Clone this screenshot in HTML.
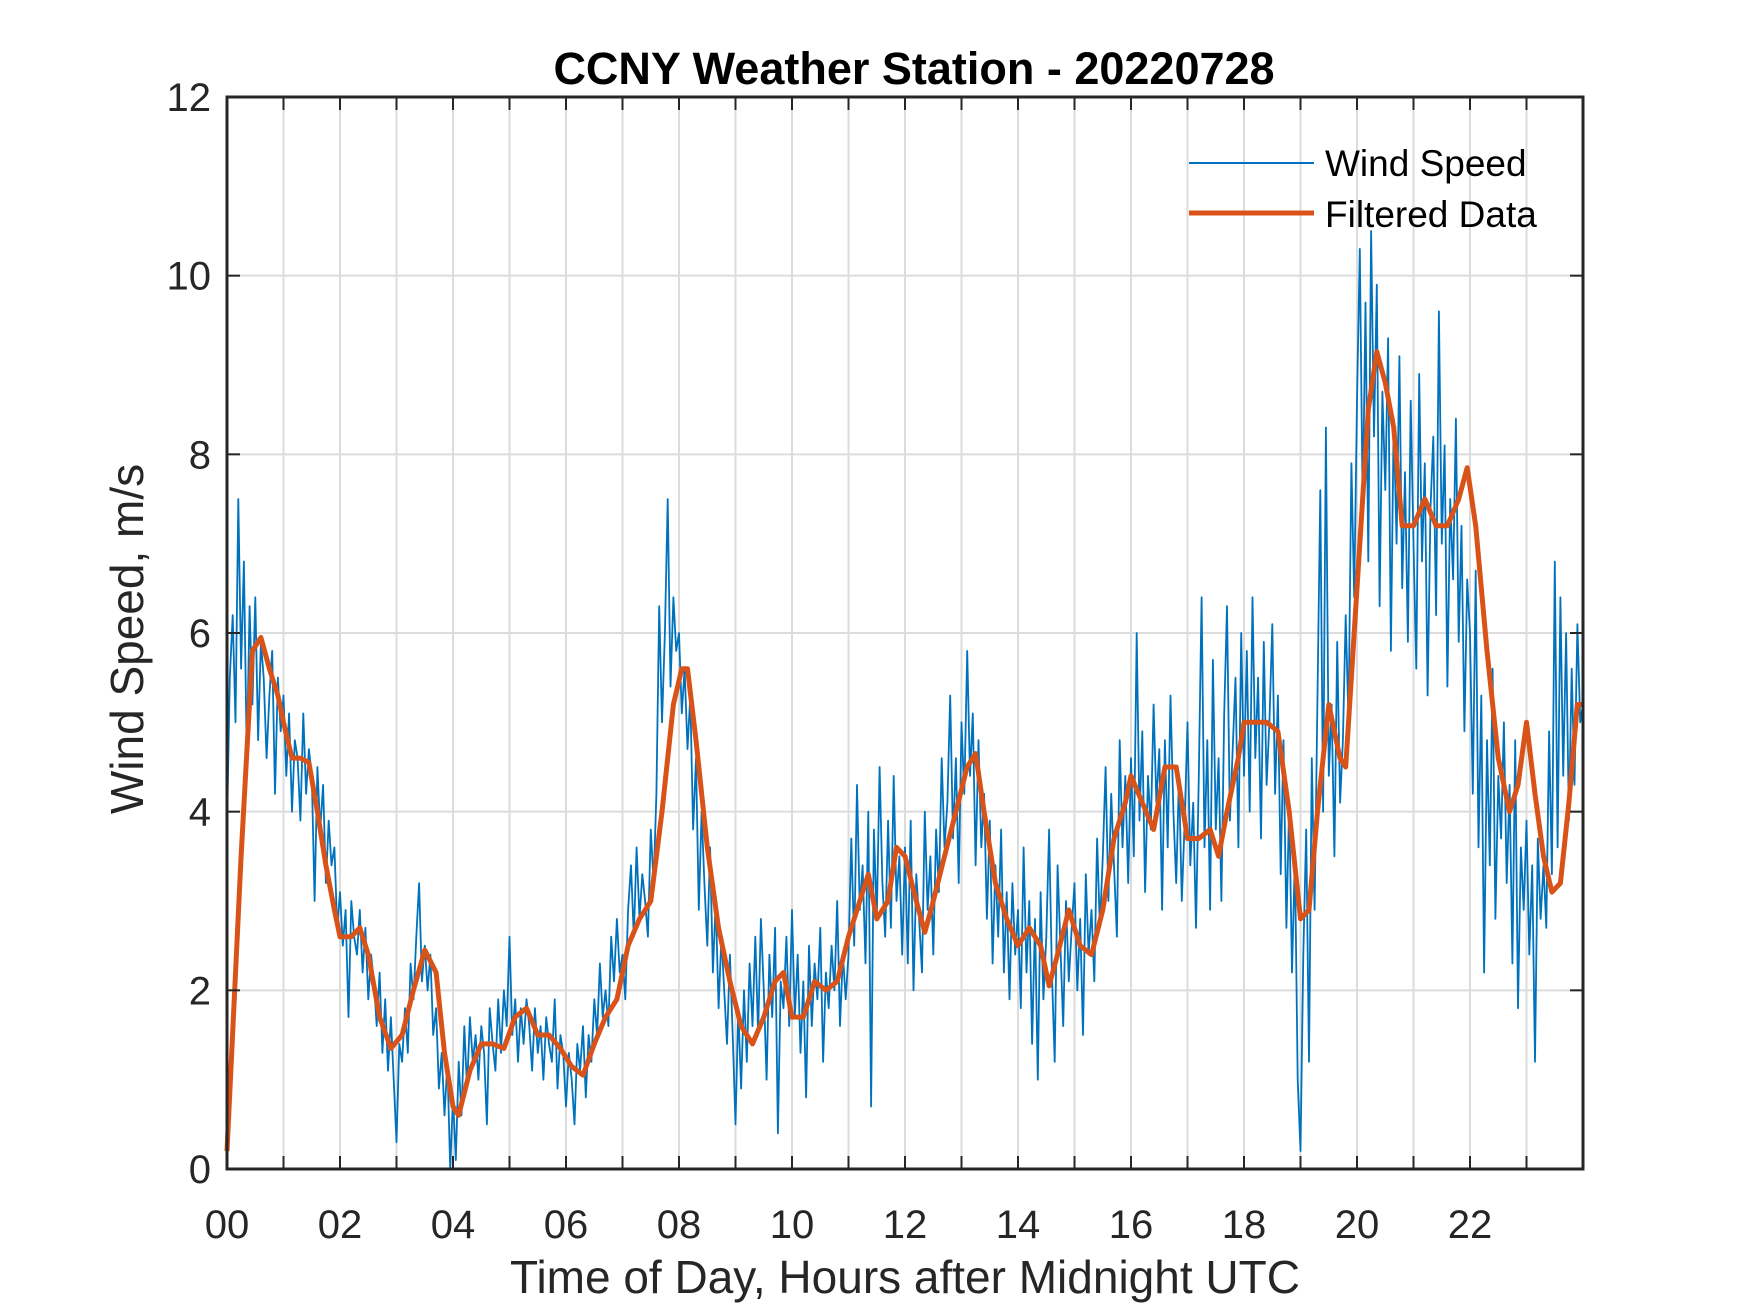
<!DOCTYPE html>
<html><head><meta charset="utf-8"><style>
html,body{margin:0;padding:0;background:#fff;}
svg{display:block;font-family:"Liberation Sans",Arial,sans-serif;}
</style></head><body>
<svg id="chart" width="1750" height="1313" viewBox="0 0 1750 1313" xmlns="http://www.w3.org/2000/svg">
<rect width="1750" height="1313" fill="#fff"/>
<g id="grid"></g>
<g id="series"></g>
<g id="axes"></g>
<text x="914" y="84" text-anchor="middle" font-size="45" font-weight="bold" fill="#000">CCNY Weather Station - 20220728</text>
<text x="905" y="1293" text-anchor="middle" font-size="46" fill="#262626">Time of Day, Hours after Midnight UTC</text>
<text transform="translate(143,639) rotate(-90)" text-anchor="middle" font-size="46" fill="#262626">Wind Speed, m/s</text>
<g>
<line x1="1189" y1="163" x2="1314" y2="163" stroke="#0072BD" stroke-width="2"/>
<text x="1325" y="176" font-size="37" fill="#000">Wind Speed</text>
<line x1="1189" y1="213" x2="1314" y2="213" stroke="#D95319" stroke-width="5"/>
<text x="1325" y="227" font-size="37" fill="#000">Filtered Data</text>
</g>
</svg>
<script>
const xTicks=[0,2,4,6,8,10,12,14,16,18,20,22];
const xTickLabels=["00","02","04","06","08","10","12","14","16","18","20","22"];
const yTicks=[0,2,4,6,8,10,12];
const yTickLabels=["0","2","4","6","8","10","12"];
const rawStep=0.05;
const windSpeed=[
3.8,5.5,6.2,5.0,7.5,5.6,6.8,4.6,6.3,5.2,6.4,4.8,5.9,5.5,4.6,5.3,5.8,4.2,5.5,4.9,
5.3,4.4,5.1,4.0,4.8,4.6,3.9,5.1,4.2,4.7,4.4,3.0,4.5,3.8,4.3,3.2,3.9,3.4,3.6,2.7,
3.1,2.5,2.9,1.7,3.0,2.6,2.4,2.9,2.2,2.7,1.9,2.4,2.1,1.6,2.2,1.3,1.9,1.1,1.7,1.0,
0.3,1.4,1.2,1.8,1.3,2.3,1.9,2.6,3.2,2.1,2.5,2.0,2.4,1.5,1.8,0.9,1.3,0.6,1.2,0.0,
0.8,0.1,1.2,0.6,1.6,0.9,1.7,1.2,1.5,1.0,1.6,1.3,0.5,1.8,1.4,1.1,1.9,1.3,2.0,1.6,
2.6,1.5,1.9,1.2,1.8,1.4,1.9,1.6,1.1,1.8,1.3,1.6,1.0,1.7,1.4,1.2,1.9,0.9,1.5,1.3,
0.7,1.3,1.0,0.5,1.4,1.1,1.6,0.8,1.5,1.2,1.9,1.5,2.3,1.7,2.0,1.6,2.6,2.1,2.8,2.2,
2.4,1.9,2.9,3.4,2.6,3.6,2.8,3.3,3.0,2.6,3.8,3.2,4.2,6.3,5.0,6.0,7.5,5.4,6.4,5.8,
6.0,5.1,5.6,4.7,5.3,3.8,4.6,2.9,4.0,3.2,2.5,3.6,2.2,3.0,1.8,2.6,2.0,1.4,2.4,1.5,
0.5,1.8,0.9,2.0,1.2,2.3,1.6,2.6,1.5,2.8,2.0,1.0,2.4,1.7,2.7,0.4,2.1,1.8,2.6,1.6,
2.9,1.7,2.4,1.3,2.1,0.8,2.5,1.6,2.3,1.9,2.7,1.2,2.2,1.8,2.5,2.0,3.0,1.6,2.4,1.9,
2.4,3.7,2.5,4.3,2.9,3.4,2.3,4.0,0.7,3.8,2.8,4.5,3.2,2.6,3.9,2.7,4.4,3.0,3.5,2.4,
3.6,2.3,3.9,2.0,3.3,2.8,2.2,4.0,2.9,3.5,2.4,3.8,3.1,4.6,3.6,4.1,5.3,3.7,4.6,3.2,
5.0,4.2,5.8,4.4,5.1,3.4,4.8,3.6,4.2,2.8,3.9,2.3,3.4,2.6,3.8,2.2,3.1,1.9,3.2,2.4,
2.9,1.8,3.6,2.2,3.0,1.4,2.8,1.0,3.1,1.9,2.6,3.8,2.2,1.2,3.4,2.5,1.6,3.0,2.1,2.7,
3.2,2.0,2.8,1.5,3.3,2.4,2.9,2.1,3.7,2.7,3.5,4.5,3.0,4.2,3.4,2.6,4.8,3.6,4.4,3.2,
4.6,3.5,6.0,3.9,4.9,3.1,4.4,3.8,5.2,4.1,4.7,2.9,4.8,3.6,5.3,4.0,3.2,4.4,3.0,3.9,
5.0,3.4,4.1,2.7,4.4,6.4,3.6,4.8,2.9,5.7,3.8,4.6,3.0,5.1,6.3,3.9,4.7,5.5,3.6,6.0,
4.4,5.8,4.0,6.4,4.6,5.5,3.7,5.9,4.3,5.0,6.1,4.2,5.3,3.3,4.8,2.7,4.1,2.2,3.5,1.0,
0.2,2.4,3.8,1.2,4.6,2.9,5.3,7.6,4.0,8.3,4.4,5.2,3.5,5.9,4.1,4.8,6.2,5.0,7.9,6.4,
8.6,10.3,7.4,9.7,6.8,10.5,8.2,9.9,6.3,8.7,7.6,9.3,5.8,8.4,7.0,9.1,6.5,7.8,5.9,8.6,
7.0,5.6,8.9,6.8,7.9,5.3,7.4,8.2,6.2,9.6,7.0,8.1,5.4,7.5,6.6,8.4,5.9,7.2,4.9,6.6,
6.0,4.2,6.7,3.6,5.3,2.2,4.8,3.4,5.6,2.8,4.4,3.7,5.0,3.2,4.3,2.3,4.8,1.8,3.6,2.9,
3.9,2.4,3.4,1.2,3.7,2.8,3.4,2.7,4.9,3.3,6.8,3.6,6.4,4.4,6.0,3.9,5.6,4.3,6.1,5.0,
5.2];
const filteredHours=[0,0.25,0.45,0.6,0.75,0.9,1.0,1.15,1.3,1.45,1.6,1.75,1.9,2.0,2.2,2.35,2.5,2.7,2.9,3.1,3.3,3.5,3.7,3.85,4.0,4.1,4.3,4.5,4.7,4.9,5.1,5.3,5.5,5.7,5.9,6.1,6.3,6.5,6.7,6.9,7.1,7.3,7.5,7.7,7.9,8.05,8.15,8.3,8.5,8.7,8.9,9.1,9.3,9.5,9.7,9.85,10.0,10.2,10.4,10.6,10.8,11.0,11.2,11.35,11.5,11.7,11.85,12.0,12.2,12.35,12.5,12.7,12.9,13.1,13.25,13.4,13.6,13.8,14.0,14.2,14.4,14.55,14.7,14.9,15.1,15.3,15.5,15.7,15.9,16.0,16.2,16.4,16.6,16.8,17.0,17.2,17.4,17.55,17.7,17.9,18.0,18.2,18.4,18.6,18.8,19.0,19.15,19.3,19.5,19.7,19.8,20.0,20.2,20.35,20.5,20.65,20.8,21.0,21.2,21.4,21.6,21.8,21.95,22.1,22.3,22.5,22.7,22.85,23.0,23.15,23.3,23.45,23.6,23.75,23.9,24.0];
const filteredValues=[0.2,3.5,5.8,5.95,5.6,5.3,5.0,4.6,4.6,4.55,4.0,3.4,2.9,2.6,2.6,2.7,2.4,1.7,1.35,1.5,2.0,2.45,2.2,1.3,0.7,0.6,1.1,1.4,1.4,1.35,1.7,1.8,1.5,1.5,1.35,1.15,1.05,1.4,1.7,1.9,2.5,2.8,3.0,4.0,5.2,5.6,5.6,4.8,3.6,2.7,2.1,1.6,1.4,1.7,2.1,2.2,1.7,1.7,2.1,2.0,2.1,2.6,3.0,3.3,2.8,3.0,3.6,3.5,3.0,2.65,3.0,3.5,4.0,4.5,4.65,4.0,3.2,2.8,2.5,2.7,2.5,2.05,2.4,2.9,2.5,2.4,2.9,3.7,4.1,4.4,4.1,3.8,4.5,4.5,3.7,3.7,3.8,3.5,4.0,4.6,5.0,5.0,5.0,4.9,4.0,2.8,2.9,4.0,5.2,4.6,4.5,6.5,8.5,9.15,8.8,8.3,7.2,7.2,7.5,7.2,7.2,7.5,7.85,7.2,5.8,4.6,4.0,4.3,5.0,4.2,3.5,3.1,3.2,4.1,5.2,5.2];

const L=227,R=1583,T=97,B=1169,XMAX=24,YMAX=12;
const xs=h=>L+(h/XMAX)*(R-L);
const ys=v=>B-(v/YMAX)*(B-T);
const NS="http://www.w3.org/2000/svg";
function mk(tag,attrs,parent){const e=document.createElementNS(NS,tag);for(const k in attrs)e.setAttribute(k,attrs[k]);parent.appendChild(e);return e;}
const grid=document.getElementById('grid'),axes=document.getElementById('axes'),series=document.getElementById('series');
for(let h=1;h<XMAX;h++){
  const g=mk('line',{x1:xs(h),x2:xs(h),y1:T,y2:B,stroke:'#dcdcdc','stroke-width':2},grid);
  
  
  const t1=mk('line',{x1:xs(h),x2:xs(h),y1:B,y2:B-13,stroke:'#262626','stroke-width':2},axes);
  
  
  const t2=mk('line',{x1:xs(h),x2:xs(h),y1:T,y2:T+13,stroke:'#262626','stroke-width':2},axes);
  
  
}
yTicks.forEach((v,i)=>{
  if(v>0&&v<YMAX){
    const g=mk('line',{x1:L,x2:R,y1:ys(v),y2:ys(v),stroke:'#dcdcdc','stroke-width':2},grid);
    
    
    const t1=mk('line',{x1:L,x2:L+13,y1:ys(v),y2:ys(v),stroke:'#262626','stroke-width':2},axes);
    
    
    const t2=mk('line',{x1:R,x2:R-13,y1:ys(v),y2:ys(v),stroke:'#262626','stroke-width':2},axes);
    
    
  }
  const tl=mk('text',{x:L-16,y:ys(v)+14,'text-anchor':'end','font-size':40,fill:'#262626'},axes);
  tl.textContent=yTickLabels[i];
  
  
});
xTicks.forEach((h,i)=>{
  const tl=mk('text',{x:xs(h),y:1238,'text-anchor':'middle','font-size':40,fill:'#262626'},axes);
  tl.textContent=xTickLabels[i];
  
  
});
const box=mk('rect',{x:L,y:T,width:R-L,height:B-T,fill:'none',stroke:'#262626','stroke-width':3},axes);


const rawPts=windSpeed.map((v,i)=>xs(Math.min(i*rawStep,XMAX)).toFixed(1)+','+ys(v).toFixed(1)).join(' ');
const raw=mk('polyline',{points:rawPts,fill:'none',stroke:'#0072BD','stroke-width':1.8,'stroke-linejoin':'round'},series);


const fPts=filteredHours.map((h,i)=>xs(h).toFixed(1)+','+ys(filteredValues[i]).toFixed(1)).join(' ');
const fl=mk('polyline',{points:fPts,fill:'none',stroke:'#D95319','stroke-width':5,'stroke-linejoin':'round'},series);


</script>
</body></html>
